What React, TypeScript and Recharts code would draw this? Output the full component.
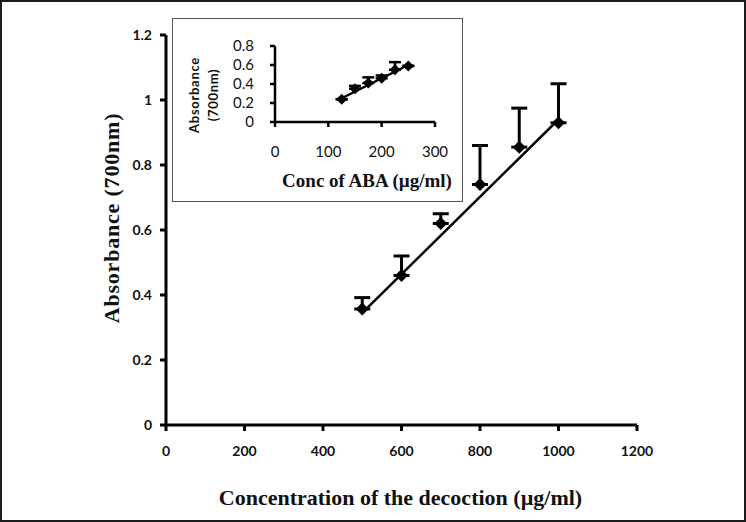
import React from 'react';
import {
    ScatterChart,
    Scatter,
    XAxis,
    YAxis,
    ErrorBar,
} from 'recharts';

// main plot: decoction
const decoctionConc = [500, 600, 700, 800, 900, 1000];
const decoctionAbs = [0.357, 0.46, 0.62, 0.74, 0.855, 0.93];
const decoctionErr = [0.035, 0.06, 0.03, 0.12, 0.12, 0.12];
const decoctionFitX = [500, 1000];
const decoctionFitY = [0.345, 0.94];
const mainXTicks = [0, 200, 400, 600, 800, 1000, 1200];
const mainYTicks = [0, 0.2, 0.4, 0.6, 0.8, 1, 1.2];

// inset: ABA standard
const abaConc = [125, 150, 175, 200, 225, 250];
const abaAbs = [0.24, 0.35, 0.41, 0.46, 0.55, 0.59];
const abaErr = [0, 0.03, 0.06, 0.03, 0.08, 0];
const abaFitX = [125, 250];
const abaFitY = [0.25, 0.6];
const insetXTicks = [0, 100, 200, 300];
const insetYTicks = [0, 0.2, 0.4, 0.6, 0.8];

const mainData = decoctionConc.map((x, i) => ({ x, y: decoctionAbs[i], err: [0, decoctionErr[i]] }));
const mainFit = decoctionFitX.map((x, i) => ({ x, y: decoctionFitY[i] }));
const insetData = abaConc.map((x, i) => ({ x, y: abaAbs[i], err: [0, abaErr[i]] }));
const insetFit = abaFitX.map((x, i) => ({ x, y: abaFitY[i] }));

const serif = '"Liberation Serif", "Times New Roman", serif';
const sans = 'Lato, "Open Sans", sans-serif';

const makeDiamond = (r: number) => (props: any) => {
    const { cx, cy } = props;
    if (cx == null || cy == null) return <g />;
    return (
        <polygon
            points={`${cx},${cy - r} ${cx + r},${cy} ${cx},${cy + r} ${cx - r},${cy}`}
            fill="#000"
        />
    );
};

const noDot = () => <g />;

const fmt = (v: number) => String(v);

const axisStroke = { stroke: '#000', strokeWidth: 3 };

const App: React.FC = () => {
    return (
        <div
            style={{
                position: 'absolute',
                left: 0,
                top: 0,
                width: 746,
                height: 522,
                background: '#fff',
                boxSizing: 'border-box',
                border: '2px solid #1c1c1c',
                overflow: 'hidden',
            }}
        >
            {/* main chart */}
            <div style={{ position: 'absolute', left: -2, top: -2 }}>
                <ScatterChart width={746} height={522} margin={{ top: 35, right: 109, bottom: 0, left: 0 }}>
                    <XAxis
                        type="number"
                        dataKey="x"
                        domain={[0, 1200]}
                        ticks={mainXTicks}
                        interval={0}
                        height={97}
                        stroke="#000"
                        strokeWidth={3}
                        axisLine={axisStroke}
                        tickLine={axisStroke}
                        tickSize={6}
                        tickMargin={15}
                        tick={{ fill: '#111', fontSize: 14, fontWeight: 700, fontFamily: sans }}
                        tickFormatter={fmt}
                        label={{
                            content: ({ viewBox }: any) => (
                                <text
                                    x={viewBox.x + viewBox.width / 2 - 1}
                                    y={497}
                                    textAnchor="middle"
                                    dominantBaseline="central"
                                    fontFamily={serif}
                                    fontWeight={700}
                                    fontSize={22}
                                    fill="#111"
                                >
                                    Concentration of the decoction (µg/ml)
                                </text>
                            ),
                        }}
                    />
                    <YAxis
                        type="number"
                        dataKey="y"
                        domain={[0, 1.2]}
                        ticks={mainYTicks}
                        interval={0}
                        width={166}
                        stroke="#000"
                        strokeWidth={3}
                        axisLine={axisStroke}
                        tickLine={axisStroke}
                        tickSize={6}
                        tickMargin={8}
                        tick={{ fill: '#111', fontSize: 14, fontWeight: 700, fontFamily: sans }}
                        tickFormatter={fmt}
                        label={{
                            content: ({ viewBox }: any) => {
                                const cx = 111;
                                const cy = viewBox.y + viewBox.height / 2 - 12;
                                return (
                                    <text
                                        x={cx}
                                        y={cy}
                                        transform={`rotate(-90 ${cx} ${cy})`}
                                        textAnchor="middle"
                                        dominantBaseline="central"
                                        fontFamily={serif}
                                        fontWeight={700}
                                        fontSize={22}
                                        fill="#111"
                                        letterSpacing={0.8}
                                    >
                                        Absorbance (700nm)
                                    </text>
                                );
                            },
                        }}
                    />
                    <Scatter
                        data={mainFit}
                        shape={noDot}
                        line={{ stroke: '#000', strokeWidth: 2.5 }}
                        isAnimationActive={false}
                    />
                    <Scatter data={mainData} shape={makeDiamond(6.5)} isAnimationActive={false}>
                        <ErrorBar dataKey="err" direction="y" width={8} stroke="#000" strokeWidth={3} />
                    </Scatter>
                </ScatterChart>
            </div>

            {/* inset chart */}
            <div
                style={{
                    position: 'absolute',
                    left: 170,
                    top: 16,
                    width: 291,
                    height: 184,
                    boxSizing: 'border-box',
                    border: '1.5px solid #555',
                    background: '#fff',
                }}
            >
                <div style={{ position: 'absolute', left: -1.5, top: -1.5 }}>
                    <ScatterChart width={291} height={184} margin={{ top: 28, right: 28, bottom: 0, left: 0 }}>
                        <XAxis
                            type="number"
                            dataKey="x"
                            domain={[0, 300]}
                            ticks={insetXTicks}
                            interval={0}
                            height={80}
                            stroke="#000"
                            strokeWidth={2.5}
                            axisLine={{ stroke: '#000', strokeWidth: 2.5 }}
                            tickLine={{ stroke: '#000', strokeWidth: 2.5 }}
                            tickSize={5}
                            tickMargin={19}
                            tick={{ fill: '#111', fontSize: 15, fontFamily: sans }}
                            tickFormatter={fmt}
                            label={{
                                content: ({ viewBox }: any) => (
                                    <text
                                        x={viewBox.x + viewBox.width / 2 + 12}
                                        y={162}
                                        textAnchor="middle"
                                        dominantBaseline="central"
                                        fontFamily={serif}
                                        fontWeight={700}
                                        fontSize={19}
                                        fill="#111"
                                    >
                                        Conc of ABA (µg/ml)
                                    </text>
                                ),
                            }}
                        />
                        <YAxis
                            type="number"
                            dataKey="y"
                            domain={[0, 0.8]}
                            ticks={insetYTicks}
                            interval={0}
                            width={103}
                            stroke="#000"
                            strokeWidth={2.5}
                            axisLine={{ stroke: '#000', strokeWidth: 2.5 }}
                            tickLine={{ stroke: '#000', strokeWidth: 2.5 }}
                            tickSize={5}
                            tickMargin={16}
                            tick={{ fill: '#111', fontSize: 15, fontFamily: sans }}
                            tickFormatter={fmt}
                            label={{
                                content: () => {
                                    const cy = 77;
                                    return (
                                        <g fontFamily={sans} fontWeight={700} fontSize={13} fill="#111" letterSpacing={0.7}>
                                            <text x={22} y={cy} transform={`rotate(-90 22 ${cy})`} textAnchor="middle" dominantBaseline="central">
                                                Absorbance
                                            </text>
                                            <text x={41} y={cy} transform={`rotate(-90 41 ${cy})`} textAnchor="middle" dominantBaseline="central">
                                                (700nm)
                                            </text>
                                        </g>
                                    );
                                },
                            }}
                        />
                        <Scatter
                            data={insetFit}
                            shape={noDot}
                            line={{ stroke: '#000', strokeWidth: 2.5 }}
                            isAnimationActive={false}
                        />
                        <Scatter data={insetData} shape={makeDiamond(5.5)} isAnimationActive={false}>
                            <ErrorBar dataKey="err" direction="y" width={6} stroke="#000" strokeWidth={2.5} />
                        </Scatter>
                    </ScatterChart>
                </div>
            </div>
        </div>
    );
};

export default App;
